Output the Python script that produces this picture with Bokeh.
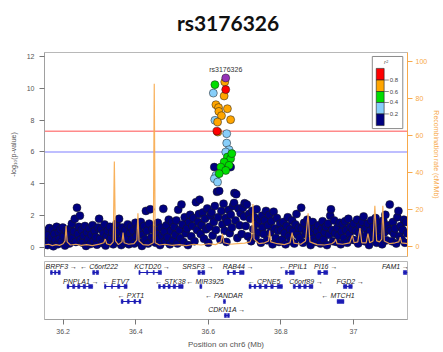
from bokeh.plotting import figure
from bokeh.models import Range1d, LinearAxis, FixedTicker, Span, ColumnDataSource
from bokeh.layouts import column
from bokeh.embed import file_html
from bokeh.resources import INLINE
from bokeh.core.properties import value

TITLE = "rs3176326"
LEAD_SNP = "rs3176326"
X_TICKS = [36.2, 36.4, 36.6, 36.8, 37.0]
X_TICK_LABELS = ["36.2", "36.4", "36.6", "36.8", "37"]
Y_TICKS = [0, 2, 4, 6, 8, 10, 12]
REC_TICKS = [0, 20, 40, 60, 80, 100]
GWS_LINE = 7.3
SUG_LINE = 6.0

# background SNPs (r2 < 0.2)
navy_x = [
    36.151, 36.154, 36.157, 36.159, 36.162, 36.165, 36.168, 36.171, 36.173, 36.176, 36.179, 36.182, 36.185, 36.188, 36.190, 36.193, 36.196, 36.199,
    36.202, 36.205, 36.208, 36.211, 36.214, 36.217, 36.220, 36.224, 36.227, 36.230, 36.232, 36.235, 36.238, 36.241, 36.243, 36.246, 36.248,
    36.251, 36.254, 36.257, 36.260, 36.263, 36.266, 36.269, 36.272, 36.275, 36.278, 36.281, 36.284, 36.287, 36.290, 36.293, 36.296, 36.299,
    36.302, 36.305, 36.308, 36.311, 36.314, 36.317, 36.320, 36.323, 36.326, 36.329, 36.332, 36.335, 36.338, 36.341, 36.344, 36.347, 36.350,
    36.353, 36.354, 36.357, 36.360, 36.363, 36.366, 36.369, 36.372, 36.375, 36.378, 36.381, 36.384, 36.387, 36.390, 36.393, 36.396, 36.399,
    36.402, 36.405, 36.408, 36.411, 36.414, 36.417, 36.420, 36.423, 36.426, 36.428, 36.431, 36.434, 36.437, 36.440, 36.443, 36.446, 36.449,
    36.452, 36.455, 36.458, 36.461, 36.464, 36.467, 36.470, 36.473, 36.476, 36.479, 36.482, 36.485, 36.488, 36.491, 36.494, 36.497, 36.500,
    36.503, 36.506, 36.509, 36.512, 36.515, 36.517, 36.520, 36.523, 36.526, 36.529, 36.532, 36.535, 36.538, 36.541, 36.544, 36.547, 36.550,
    36.553, 36.556, 36.559, 36.562, 36.566, 36.569, 36.572, 36.574, 36.576, 36.579, 36.582, 36.585, 36.588, 36.591, 36.594, 36.597, 36.600,
    36.603, 36.606, 36.609, 36.612, 36.615, 36.618, 36.621, 36.624, 36.627, 36.630, 36.633, 36.636, 36.639, 36.642, 36.645, 36.648, 36.650,
    36.653, 36.656, 36.659, 36.662, 36.665, 36.668, 36.671, 36.672, 36.675, 36.677, 36.680, 36.683, 36.686, 36.689, 36.692, 36.695, 36.698, 36.700,
    36.703, 36.706, 36.709, 36.712, 36.715, 36.718, 36.721, 36.724, 36.727, 36.730, 36.733, 36.736, 36.739, 36.742, 36.745, 36.748, 36.750,
    36.753, 36.756, 36.759, 36.762, 36.765, 36.768, 36.771, 36.774, 36.777, 36.780, 36.783, 36.786, 36.789, 36.792, 36.795, 36.798,
    36.801, 36.804, 36.807, 36.810, 36.813, 36.816, 36.819, 36.822, 36.825, 36.828, 36.831, 36.834, 36.837, 36.840, 36.843, 36.846, 36.849,
    36.852, 36.856, 36.858, 36.861, 36.864, 36.867, 36.870, 36.873, 36.876, 36.879, 36.882, 36.885, 36.888, 36.891, 36.894, 36.897, 36.900,
    36.903, 36.906, 36.909, 36.912, 36.915, 36.918, 36.921, 36.924, 36.927, 36.930, 36.933, 36.936, 36.938, 36.941, 36.944, 36.947, 36.950,
    36.953, 36.956, 36.959, 36.962, 36.965, 36.968, 36.971, 36.974, 36.977, 36.980, 36.983, 36.986, 36.989, 36.992, 36.995, 36.998,
    37.001, 37.004, 37.007, 37.010, 37.013, 37.016, 37.019, 37.022, 37.025, 37.028, 37.031, 37.034, 37.037, 37.040, 37.043, 37.046, 37.049,
    37.052, 37.055, 37.058, 37.061, 37.064, 37.067, 37.070, 37.073, 37.076, 37.079, 37.082, 37.085, 37.088, 37.091, 37.094, 37.097, 37.100,
    37.103, 37.106, 37.109, 37.112, 37.115, 37.118, 37.121, 37.124, 37.127, 37.130, 37.133, 37.136, 37.139, 37.142, 37.145, 37.148,
    36.6165, 36.6390, 36.6615,
]
navy_y = [
    0.42, 1.05, 0.15, 0.78, 1.22, 0.30, 0.62, 1.10, 0.08, 0.85, 0.45, 1.30, 0.20, 0.95, 0.55, 1.15, 0.35, 1.25,
    0.70, 0.12, 1.05, 0.48, 0.90, 0.25, 1.20, 1.50, 0.60, 1.00, 1.80, 0.35, 2.50, 0.85, 1.30, 2.00, 0.50,
    1.10, 0.30, 0.75, 1.35, 0.10, 0.95, 0.52, 1.20, 0.22, 0.80, 1.40, 0.40, 1.05, 0.65, 0.18, 1.25, 1.80,
    0.55, 1.15, 0.28, 0.88, 1.45, 0.12, 0.70, 1.05, 0.40, 1.30, 0.60, 0.95, 0.20, 1.20, 0.75, 1.50, 0.35,
    1.00, 1.80, 0.45, 0.15, 1.25, 0.80, 0.30, 1.10, 0.60, 1.45, 0.20, 0.90, 1.30, 0.50, 1.05, 0.25, 1.55,
    0.70, 1.20, 0.35, 0.95, 1.60, 0.10, 0.80, 1.35, 0.50, 2.30, 1.05, 0.25, 1.50, 2.40, 0.65, 1.15, 0.40,
    1.10, 0.30, 0.85, 1.55, 0.55, 0.15, 1.25, 0.75, 2.43, 1.00, 0.40, 1.40, 0.65, 1.75, 0.20, 1.05, 1.60,
    0.45, 1.30, 0.80, 1.70, 0.25, 2.37, 1.10, 0.60, 2.70, 1.45, 0.35, 1.90, 0.90, 1.20, 0.15, 1.60, 2.05,
    0.70, 1.35, 1.85, 0.40, 2.85, 1.10, 1.60, 2.10, 3.00, 0.85, 1.40, 2.20, 0.55, 1.80, 1.15, 2.45, 0.30,
    1.30, 2.00, 2.20, 0.75, 1.60, 2.60, 1.10, 3.50, 1.90, 3.55, 0.50, 2.30, 1.45, 2.75, 1.05, 1.85, 0.35,
    1.60, 2.35, 0.90, 2.05, 1.25, 2.60, 2.80, 3.42, 1.70, 3.35, 0.60, 2.45, 1.40, 2.15, 0.85, 2.50, 1.95, 2.78,
    1.35, 2.70, 0.70, 2.10, 1.80, 0.40, 2.30, 1.15, 1.90, 0.65, 2.40, 1.50, 0.95, 1.75, 0.30, 2.00, 1.25,
    0.85, 1.70, 2.30, 0.45, 1.40, 2.05, 0.95, 1.65, 0.20, 2.25, 1.20, 0.60, 1.85, 1.05, 0.35, 1.50,
    1.10, 0.50, 1.60, 0.90, 0.20, 1.35, 1.90, 0.70, 1.15, 0.40, 1.70, 1.00, 0.25, 1.45, 2.10, 0.80, 1.25,
    0.60, 2.50, 1.20, 0.30, 1.55, 0.85, 1.05, 1.75, 0.45, 1.30, 0.15, 0.95, 1.60, 0.55, 1.20, 0.35, 1.00,
    1.40, 0.70, 0.25, 1.15, 1.65, 0.50, 0.95, 1.30, 0.15, 1.50, 0.80, 2.00, 2.40, 1.10, 0.40, 1.70, 0.90,
    0.35, 1.25, 0.75, 1.55, 0.20, 1.00, 1.45, 0.60, 1.65, 1.10, 0.30, 1.80, 0.85, 1.30, 0.50, 1.15,
    1.50, 0.45, 1.05, 1.75, 0.25, 0.90, 1.35, 0.60, 1.60, 1.95, 0.40, 1.20, 0.80, 1.50, 0.15, 1.05, 1.70,
    0.55, 1.30, 0.85, 1.85, 0.30, 1.10, 1.55, 0.65, 1.25, 0.20, 1.70, 0.95, 2.05, 0.45, 1.40, 1.15, 2.70,
    1.05, 0.40, 1.60, 0.85, 1.20, 0.25, 1.90, 2.30, 0.70, 1.35, 0.50, 1.10, 1.75, 0.30, 1.60, 0.90,
    5.05, 5.00, 5.05,
]

# SNPs in LD with the lead SNP
ld_x = [36.6453, 36.6182, 36.6138, 36.6480, 36.6436, 36.6209, 36.6282, 36.6290, 36.6526, 36.6363,
        36.6615, 36.6182, 36.6255, 36.6262, 36.6236, 36.6507, 36.6507, 36.6572, 36.6480, 36.6526,
        36.6615, 36.6436, 36.6572, 36.6344, 36.6480, 36.6301, 36.6648, 36.6209, 36.6165, 36.6255]
ld_y = [10.40, 10.23, 9.70, 9.92, 9.52, 8.97, 8.79, 8.55, 8.72, 8.28,
        8.03, 7.99, 7.88, 7.25, 7.31, 7.15, 6.56, 6.14, 6.00, 5.68,
        5.58, 5.37, 5.16, 5.05, 4.84, 4.64, 5.90, 4.53, 4.32, 4.11]
ld_r2 = [0.7, 0.5, 0.3, 0.9, 0.7, 0.7, 0.7, 0.7, 0.7, 0.7,
         0.7, 0.3, 0.7, 0.7, 0.9, 0.3, 0.3, 0.3, 0.3, 0.5,
         0.5, 0.5, 0.5, 0.5, 0.5, 0.5, 0.5, 0.3, 0.3, 0.3]
lead_x = [36.6480]
lead_y = [10.65]

# recombination rate (cM/Mb)
rec_x = [36.148, 36.160, 36.170, 36.180, 36.190, 36.200, 36.205, 36.208, 36.211, 36.220,
         36.235, 36.250, 36.265, 36.280, 36.300, 36.312, 36.316, 36.320, 36.330, 36.338,
         36.341, 36.344, 36.352, 36.362, 36.365, 36.368, 36.380, 36.395, 36.403, 36.406,
         36.409, 36.420, 36.435, 36.4485, 36.451, 36.4535, 36.465, 36.480, 36.500, 36.520,
         36.540, 36.560, 36.580, 36.600, 36.620, 36.635, 36.639, 36.643, 36.660, 36.680,
         36.700, 36.715, 36.720, 36.723, 36.726, 36.740, 36.755, 36.766, 36.769, 36.772,
         36.790, 36.810, 36.825, 36.831, 36.836, 36.855, 36.868, 36.875, 36.880, 36.900,
         36.920, 36.940, 36.948, 36.951, 36.955, 36.970, 36.990, 36.997, 37.002, 37.012,
         37.018, 37.023, 37.035, 37.040, 37.045, 37.054, 37.059, 37.064, 37.072, 37.078,
         37.081, 37.085, 37.100, 37.115, 37.125, 37.129, 37.133, 37.149]
rec_y = [0.8, 1.2, 0.5, 1.0, 0.6, 1.5, 3.0, 11.0, 2.5, 0.8,
         1.2, 0.6, 1.0, 0.5, 1.3, 2.0, 4.0, 1.5, 0.8, 2.5,
         46.0, 3.0, 1.0, 2.5, 7.5, 2.0, 1.2, 1.5, 3.5, 18.0,
         3.0, 1.0, 0.7, 2.0, 88.0, 2.0, 0.8, 1.2, 0.6, 1.0,
         0.5, 1.2, 0.8, 1.5, 1.0, 2.5, 7.0, 2.0, 1.2, 1.5,
         1.8, 2.5, 5.0, 23.0, 4.0, 1.5, 2.0, 3.0, 8.6, 2.5,
         1.5, 1.0, 2.0, 7.5, 1.8, 1.2, 3.0, 18.0, 2.5, 1.0,
         0.8, 1.5, 2.5, 4.0, 1.5, 1.2, 2.0, 6.0, 2.0, 2.5,
         10.0, 2.0, 2.0, 7.0, 2.0, 3.0, 22.0, 3.0, 2.5, 4.0,
         22.0, 3.0, 1.5, 2.0, 2.5, 5.0, 2.0, 1.5]

# genes
gene_name = ["BRPF3", "C6orf222", "KCTD20", "SRSF3", "RAB44", "PPIL1", "PI16", "FAM1",
             "PNPLA1", "ETV7", "STK38", "MIR3925", "CPNE5", "C6orf89", "FGD2",
             "PXT1", "PANDAR", "MTCH1", "CDKN1A"]
gene_start = [36.1648, 36.2813, 36.4087, 36.5713, 36.6526, 36.8125, 36.9019, 37.1377,
              36.2108, 36.3138, 36.4629, 36.5767, 36.7122, 36.8341, 36.9724,
              36.3599, 36.6417, 36.9550, 36.6444]
gene_end = [36.1919, 36.2976, 36.4710, 36.5902, 36.6986, 36.8369, 36.9290, 37.1490,
            36.2813, 36.3762, 36.5306, 36.5821, 36.8043, 36.8883, 36.9967,
            36.4141, 36.6472, 36.9738, 36.6580]
gene_strand = ["+", "-", "+", "+", "+", "-", "+", "+",
               "+", "-", "-", "-", "-", "+", "+",
               "-", "-", "-", "+"]
gene_row = [1, 1, 1, 1, 1, 1, 1, 1, 2, 2, 2, 2, 2, 2, 2, 3, 3, 3, 4]
gene_label_x = [36.1946, 36.2989, 36.4453, 36.5713, 36.6824, 36.8341, 36.9236, 37.1160,
                36.2488, 36.3450, 36.4954, 36.5916, 36.7542, 36.8694, 36.9913,
                36.3870, 36.6431, 36.9577, 36.6512]
exon_gene = [0, 0, 0, 1, 1, 2, 2, 2, 2, 3, 3, 4, 4, 4, 5, 5, 6, 6, 7,
             8, 8, 8, 8, 8, 9, 9, 9, 9, 10, 10, 10, 10, 10, 11,
             12, 12, 12, 12, 12, 12, 13, 13, 13, 13, 14, 14,
             15, 15, 15, 15, 16, 17, 18, 18]
exon_start = [36.1650, 36.1760, 36.1860, 36.2813, 36.2910, 36.4087, 36.4300, 36.4480, 36.4620,
              36.5713, 36.5820, 36.6526, 36.6680, 36.6860, 36.8125, 36.8230, 36.9019, 36.9180, 37.1377,
              36.2108, 36.2260, 36.2400, 36.2550, 36.2700, 36.3138, 36.3330, 36.3500, 36.3680,
              36.4629, 36.4750, 36.4890, 36.5030, 36.5180, 36.5767,
              36.7122, 36.7260, 36.7400, 36.7550, 36.7720, 36.7900, 36.8341, 36.8480, 36.8630, 36.8780,
              36.9724, 36.9870, 36.3599, 36.3770, 36.3950, 36.4090, 36.6417, 36.9550, 36.6444, 36.6530]
exon_end = [36.1700, 36.1800, 36.1919, 36.2870, 36.2976, 36.4120, 36.4330, 36.4510, 36.4710,
            36.5780, 36.5902, 36.6570, 36.6750, 36.6986, 36.8180, 36.8369, 36.9100, 36.9290, 37.1470,
            36.2160, 36.2320, 36.2460, 36.2620, 36.2813, 36.3180, 36.3360, 36.3560, 36.3762,
            36.4680, 36.4810, 36.4950, 36.5100, 36.5306, 36.5821,
            36.7180, 36.7310, 36.7460, 36.7620, 36.7790, 36.8043, 36.8400, 36.8550, 36.8700, 36.8883,
            36.9820, 36.9967, 36.3650, 36.3820, 36.4000, 36.4141, 36.6472, 36.9738, 36.6500, 36.6580]

# ---------------------------------------------------------------- styling
NAVY, LBLUE, GREEN, ORANGE, RED, PURPLE = "#000080", "#87CEFA", "#00DD00", "#FFA500", "#FF0000", "#9632B8"
REC_COLOR = "#F7A94A"
AX_TEXT = "#555555"
FONT = "Liberation Sans"


def ld_color(r2):
    if r2 >= 0.8:
        return RED
    if r2 >= 0.6:
        return ORANGE
    if r2 >= 0.4:
        return GREEN
    if r2 >= 0.2:
        return LBLUE
    return NAVY


order = sorted(range(len(ld_x)), key=lambda i: ld_r2[i])
pts_x = list(navy_x) + [ld_x[i] for i in order] + lead_x
pts_y = list(navy_y) + [ld_y[i] for i in order] + lead_y
pts_c = [NAVY] * len(navy_x) + [ld_color(ld_r2[i]) for i in order] + [PURPLE]

# ---------------------------------------------------------------- title strip
p0 = figure(width=443, height=44, output_backend="svg", toolbar_location=None,
            x_range=Range1d(0, 443), y_range=Range1d(0, 44),
            x_axis_location=None, y_axis_location=None, min_border=0)
p0.title.visible = False
p0.grid.visible = False
p0.outline_line_color = None
p0.text(x=[224], y=[22], text=[TITLE], text_font=value("Lato"), text_font_size="21px",
        text_font_style="bold", text_color="#111111", text_align="center", text_baseline="middle")

# ---------------------------------------------------------------- association panel
x_range = Range1d(36.1485, 37.1490)

p1 = figure(width=443, height=214, output_backend="svg", toolbar_location=None,
            x_range=x_range, y_range=Range1d(-0.565, 12.25), x_axis_location=None,
            min_border_left=44, min_border_right=30, min_border_top=8, min_border_bottom=2)
p1.title.visible = False
p1.extra_y_ranges = {"recomb": Range1d(-5.41, 104.86)}
p1.grid.visible = False
p1.outline_line_color = "#B8B8B8"
p1.background_fill_color = "white"

ya = p1.yaxis[0]
ya.ticker = FixedTicker(ticks=Y_TICKS)
ya.axis_label = "-log\u2081\u2080(p-value)"
ya.axis_label_text_font = FONT
ya.axis_label_text_font_size = "7px"
ya.axis_label_text_font_style = "normal"
ya.axis_label_text_color = AX_TEXT
ya.axis_label_standoff = 7
ya.major_label_text_font = FONT
ya.major_label_text_font_size = "7px"
ya.major_label_text_color = AX_TEXT
ya.major_label_standoff = 5
ya.major_tick_out = 5
ya.major_tick_in = 0
ya.minor_tick_out = 0
ya.minor_tick_in = 0
ya.axis_line_color = "#A0A0A0"
ya.major_tick_line_color = "#777777"

ra = LinearAxis(y_range_name="recomb", ticker=FixedTicker(ticks=REC_TICKS),
                axis_label="Recombination rate (cM/Mb)")
ra.axis_label_text_font = FONT
ra.axis_label_text_font_size = "7px"
ra.axis_label_text_font_style = "normal"
ra.axis_label_text_color = REC_COLOR
ra.axis_label_standoff = 3
ra.major_label_text_font = FONT
ra.major_label_text_font_size = "7px"
ra.major_label_text_color = REC_COLOR
ra.major_label_standoff = 3
ra.major_tick_out = 5
ra.major_tick_in = 0
ra.minor_tick_out = 0
ra.minor_tick_in = 0
ra.axis_line_color = REC_COLOR
ra.major_tick_line_color = REC_COLOR
p1.add_layout(ra, "right")

p1.add_layout(Span(location=GWS_LINE, dimension="width", line_color="#FF8A8A", line_width=1.4, level="underlay"))
p1.add_layout(Span(location=SUG_LINE, dimension="width", line_color="#A8A8FF", line_width=1.4, level="underlay"))

src = ColumnDataSource(dict(x=pts_x, y=pts_y, c=pts_c))
p1.scatter("x", "y", source=src, size=8, fill_color="c", line_color="#1A1A1A", line_width=0.5)
p1.line(rec_x, rec_y, y_range_name="recomb", line_color=REC_COLOR, line_width=1.2, line_alpha=0.9)

p1.text(x=lead_x, y=[lead_y[0] + 0.55], text=[LEAD_SNP], text_font=value(FONT), text_font_size="7px",
        text_color="#333333", text_align="center", text_baseline="middle")

# r2 legend (drawn inside the frame, top-right)
p1.quad(left=[37.0520], right=[37.1360], top=[12.0], bottom=[7.47], fill_color="white",
        line_color="#8A8A8A", line_width=1)
leg_edges = [11.25, 10.52, 9.80, 9.11, 8.39, 7.66]
leg_cols = [RED, ORANGE, GREEN, LBLUE, NAVY]
p1.quad(left=[37.0629] * 5, right=[37.0846] * 5, top=leg_edges[:-1], bottom=leg_edges[1:],
        fill_color=leg_cols, line_color="#222222", line_width=0.6)
leg_labels = ["0.8", "0.6", "0.4", "0.2"]
p1.segment(x0=[37.0846] * 4, x1=[37.0975] * 4, y0=leg_edges[1:5], y1=leg_edges[1:5],
           line_color="#555555", line_width=0.7)
p1.text(x=[37.1000] * 4, y=leg_edges[1:5], text=leg_labels, text_font=value(FONT), text_font_size="6px",
        text_color="#444444", text_align="left", text_baseline="middle")
p1.text(x=[37.0900], y=[11.68], text=["r\u00b2"], text_font=value(FONT), text_font_size="6px",
        text_font_style="italic", text_color="#555555", text_align="center", text_baseline="middle")

# ---------------------------------------------------------------- gene panel
ROW_BAR_Y = {1: 47, 2: 33, 3: 18, 4: 4}
ROW_LABEL_Y = {1: 53, 2: 38, 3: 24, 4: 10}
GENE_COLOR = "#1C1CB4"

p2 = figure(width=443, height=94, output_backend="svg", toolbar_location=None,
            x_range=x_range, y_range=Range1d(0, 58), y_axis_location=None,
            min_border_left=44, min_border_right=30, min_border_top=3, min_border_bottom=33)
p2.title.visible = False
p2.grid.visible = False
p2.outline_line_color = "#B8B8B8"

gy = [ROW_BAR_Y[r] for r in gene_row]
p2.segment(x0=gene_start, x1=gene_end, y0=gy, y1=gy, line_color=GENE_COLOR, line_width=1)
ey = [ROW_BAR_Y[gene_row[g]] for g in exon_gene]
p2.quad(left=exon_start, right=exon_end, top=[v + 2 for v in ey], bottom=[v - 2 for v in ey],
        fill_color=GENE_COLOR, line_color=GENE_COLOR, line_width=0.5)
labels = [(n + " \u2192") if s == "+" else ("\u2190 " + n) for n, s in zip(gene_name, gene_strand)]
p2.text(x=gene_label_x, y=[ROW_LABEL_Y[r] for r in gene_row], text=labels, text_font=value(FONT),
        text_font_size="7px", text_font_style="italic", text_color="#222222",
        text_align="center", text_baseline="middle")

xa = p2.xaxis[0]
xa.ticker = FixedTicker(ticks=X_TICKS)
xa.major_label_overrides = {t: l for t, l in zip(X_TICKS, X_TICK_LABELS)}
xa.axis_label = "Position on chr6 (Mb)"
xa.axis_label_text_font = FONT
xa.axis_label_text_font_size = "8px"
xa.axis_label_text_font_style = "normal"
xa.axis_label_text_color = AX_TEXT
xa.axis_label_standoff = 3
xa.major_label_text_font = FONT
xa.major_label_text_font_size = "7px"
xa.major_label_text_color = AX_TEXT
xa.major_label_standoff = 4
xa.major_tick_out = 5
xa.major_tick_in = 0
xa.minor_tick_out = 0
xa.minor_tick_in = 0
xa.axis_line_color = "#A0A0A0"
xa.major_tick_line_color = "#777777"

layout = column(p0, p1, p2)
open("out.html", "w").write(file_html(layout, INLINE))
